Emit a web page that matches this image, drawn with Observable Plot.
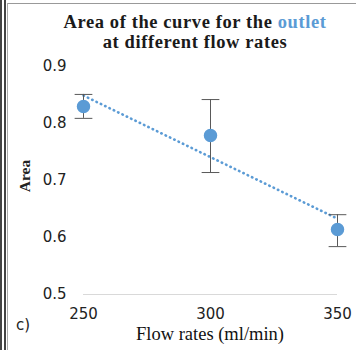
<!DOCTYPE html>
<html><head><meta charset="utf-8">
<script src="https://cdn.jsdelivr.net/npm/d3@7"></script>
<script src="https://cdn.jsdelivr.net/npm/@observablehq/plot@0.6"></script>
<style>
body{margin:0;background:#fff;}
#wrap{position:relative;width:356px;height:350px;overflow:hidden;background:#fff;}
#title{position:absolute;left:39px;top:12px;width:312px;text-align:center;font-family:"Liberation Serif","Times New Roman",serif;font-weight:bold;font-size:18.5px;letter-spacing:0.6px;line-height:20px;color:#1a1a1a;}
#title span{color:#5b9bd5;}
.b{position:absolute;background:#555;}
</style></head>
<body><div id="wrap">
<div class="b" style="left:0;top:0;width:2px;height:350px;background:#444"></div>
<div class="b" style="left:4px;top:0;width:2px;height:350px;background:#444"></div>
<div class="b" style="left:7px;top:3px;width:349px;height:1px;background:#999"></div>
<div class="b" style="left:7px;top:3px;width:1px;height:347px;background:#aaa"></div>
<div id="title">Area of the curve for the <span>outlet</span><br>at different flow rates</div>
</div>
<script>
const flowRates = [250, 300, 350];
const areaMean = [0.830, 0.779, 0.614];
const areaLow = [0.809, 0.714, 0.584];
const areaHigh = [0.851, 0.842, 0.640];
const yTicks = [0.5, 0.6, 0.7, 0.8, 0.9];
const xTicks = [250, 300, 350];

const data = flowRates.map((x, i) => ({x, y: areaMean[i], lo: areaLow[i], hi: areaHigh[i]}));
const capSymbol = {draw(ctx, size){const w = Math.sqrt(size); ctx.moveTo(-w, 0); ctx.lineTo(w, 0);}};

const chart = Plot.plot({
  width: 356, height: 350,
  marginTop: 66, marginBottom: 56, marginLeft: 83, marginRight: 19,
  style: {background: "transparent", fontFamily: "'DejaVu Sans', Verdana, sans-serif", fontSize: "15px", color: "#222"},
  x: {domain: [250, 350], ticks: xTicks, tickSize: 0, tickPadding: 14, label: null, tickFormat: d3.format("d")},
  y: {domain: [0.5, 0.9], ticks: yTicks, tickSize: 0, tickPadding: 17, label: null, tickFormat: d3.format(".1f")},
  marks: [
    Plot.ruleY([0.5], {stroke: "#d9d9d9", strokeWidth: 1}),
    Plot.linearRegressionY(data, {x: "x", y: "y", ci: 0, stroke: "#5b9bd5", strokeWidth: 2.6, strokeLinecap: "round", strokeDasharray: "0.5,4.3"}),
    Plot.ruleX(data, {x: "x", y1: "lo", y2: "hi", stroke: "#595959", strokeWidth: 1}),
    Plot.dot(data, {x: "x", y: "lo", symbol: capSymbol, r: 5, stroke: "#595959", strokeWidth: 1}),
    Plot.dot(data, {x: "x", y: "hi", symbol: capSymbol, r: 5, stroke: "#595959", strokeWidth: 1}),
    Plot.dot(data, {x: "x", y: "y", r: 6, fill: "#5b9bd5", stroke: "#5b9bd5"})
  ]
});
chart.style.position = "absolute";
chart.style.left = "0px";
chart.style.top = "0px";

const svg = d3.select(chart);
svg.append("text").attr("x", 30).attr("y", 176).attr("transform", "rotate(-90,30,176)")
  .attr("text-anchor", "middle").attr("font-family", "'Liberation Serif', serif").attr("font-weight", "bold")
  .attr("font-size", 15.5).attr("fill", "#222").text("Area");
svg.append("text").attr("x", 23).attr("y", 330)
  .attr("font-family", "'DejaVu Sans', sans-serif")
  .attr("font-size", 15).attr("fill", "#222").text("c)");
svg.append("text").attr("x", 210).attr("y", 340).attr("text-anchor", "middle")
  .attr("font-family", "'Liberation Serif', serif").attr("font-size", 18.5).attr("fill", "#111").text("Flow rates (ml/min)");

document.getElementById("wrap").appendChild(chart);
</script>
</body></html>
